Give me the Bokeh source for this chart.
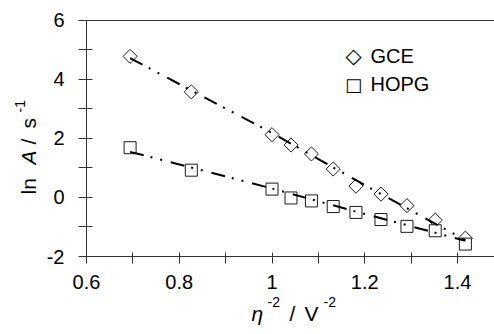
import numpy as np
from bokeh.plotting import figure
from bokeh.models import Range1d, FixedTicker, Label, LinearAxis
from bokeh.embed import file_html
from bokeh.resources import INLINE

# ---- data ----
eta_inv2 = [0.694, 0.826, 1.000, 1.041, 1.085, 1.132, 1.181, 1.235, 1.291, 1.352, 1.417]
gce_lnA = [4.77, 3.57, 2.12, 1.77, 1.47, 0.96, 0.38, 0.11, -0.28, -0.77, -1.38]
hopg_lnA = [1.68, 0.92, 0.28, -0.02, -0.12, -0.31, -0.51, -0.75, -0.98, -1.13, -1.58]

gce_fit_x = [0.694, 1.000, 1.181, 1.417]
gce_fit_y = [4.71, 2.18, 0.58, -1.45]
hopg_fit_x = [0.694, 0.826, 1.000, 1.181, 1.417]
hopg_fit_y = [1.54, 1.01, 0.30, -0.48, -1.47]

series_names = ["GCE", "HOPG"]
series_symbols = ["◇", "□"]

x_ticks = [0.6, 0.8, 1.0, 1.2, 1.4]
x_tick_labels = ["0.6", "0.8", "1", "1.2", "1.4"]
x_minor_ticks = [0.7, 0.9, 1.1, 1.3]
y_ticks = [-2, 0, 2, 4, 6]
y_tick_labels = ["-2", "0", "2", "4", "6"]
y_minor_ticks = [-1, 1, 3, 5]

# ---- layout (pixels) ----
W, H = 494, 334
X0_PX, X1_PX = 86, 457        # pixel columns of x = 0.6 and x = 1.4
Y0_PX, Y1_PX = 256, 19.5      # pixel rows of y = -2 and y = 6
XMIN, XMAX, YMIN, YMAX = 0.6, 1.4, -2, 6
xpp = (XMAX - XMIN) / (X1_PX - X0_PX)
ypp = (YMAX - YMIN) / (Y0_PX - Y1_PX)
x_range = Range1d(XMIN - X0_PX * xpp, XMIN + (W - X0_PX) * xpp)
y_range = Range1d(YMIN - (H - Y0_PX) * ypp, YMAX + Y1_PX * ypp)
x_end = x_range.end

FONT = "Liberation Sans"
AX = "#333333"

p = figure(width=W, height=H, x_range=x_range, y_range=y_range, title=None,
           output_backend="svg", toolbar_location=None, x_axis_location=None,
           y_axis_location=None, min_border=0)
p.grid.visible = False
p.outline_line_color = None
p.background_fill_color = "white"
p.border_fill_color = "white"

xa = LinearAxis(fixed_location=YMIN, bounds=(XMIN, x_end),
                ticker=FixedTicker(ticks=x_ticks, minor_ticks=x_minor_ticks))
xa.major_label_overrides = dict(zip(x_ticks, x_tick_labels))
xa.major_tick_in = 4
xa.major_tick_out = 7
xa.minor_tick_in = 4
xa.minor_tick_out = 7
xa.major_label_standoff = 11

ya = LinearAxis(fixed_location=XMIN, bounds=(YMIN, YMAX),
                ticker=FixedTicker(ticks=y_ticks, minor_ticks=y_minor_ticks))
ya.major_label_overrides = dict(zip(y_ticks, y_tick_labels))
ya.major_tick_in = 6
ya.major_tick_out = 8
ya.minor_tick_in = 6
ya.minor_tick_out = 8
ya.major_label_standoff = 14

# top frame line
ta = LinearAxis(fixed_location=YMAX, bounds=(XMIN, x_end), ticker=FixedTicker(ticks=[]),
                major_label_text_font_size="0px", major_tick_line_color=None,
                minor_tick_line_color=None)

for ax in (xa, ya, ta):
    ax.axis_line_color = AX
    ax.axis_line_width = 1
for ax in (xa, ya):
    ax.major_tick_line_color = AX
    ax.minor_tick_line_color = AX
    ax.major_label_text_font = FONT
    ax.major_label_text_font_size = "20px"
    ax.major_label_text_color = "black"

p.add_layout(xa, "below")
p.add_layout(ya, "left")
p.add_layout(ta, "above")

r_g = p.scatter(eta_inv2, gce_lnA, marker="square", angle=np.pi / 4, size=10,
                fill_color="white", line_color="#1a1a1a", line_width=1)
r_h = p.scatter(eta_inv2, hopg_lnA, marker="square", size=12,
                fill_color="white", line_color="#1a1a1a", line_width=1)

dash = "14 7 2 8 2 9"
p.line(gce_fit_x, gce_fit_y, line_color="black", line_width=2, line_dash=dash)
p.line(hopg_fit_x, hopg_fit_y, line_color="black", line_width=2, line_dash=dash)


def lab(cx, cy, text, size="21px", style="normal", angle=0.0, font=FONT, align="left"):
    # cx, cy: canvas pixels from the top-left corner (cy = vertical middle of the text)
    p.add_layout(Label(x=cx, y=H - cy, x_units="screen", y_units="screen", text=text,
                       text_font=font, text_font_size=size, text_font_style=style,
                       text_align=align, text_baseline="middle", angle=angle,
                       text_color="black"))


# legend (text symbols as in the reference)
symbol_sizes = ["21px", "18px"]
for i, (sym, name) in enumerate(zip(series_symbols, series_names)):
    cy = 55 + 28.5 * i
    lab(353, cy, sym, size=symbol_sizes[i], font="DejaVu Sans", align="center")
    lab(370, cy, name, size="20px")

# x-axis title: eta^-2 / V^-2
lab(251, 313, "η", style="italic")
lab(267, 301, "-2", size="14px")
lab(289, 313, "/")
lab(304, 313, "V")
lab(323, 301, "-2", size="14px")

# y-axis title: ln A / s^-1
r90 = np.pi / 2
lab(28, 194, "ln", angle=r90)
lab(28, 164, "A", style="italic", angle=r90)
lab(28, 144, "/", angle=r90)
lab(28, 128, "s", angle=r90)
lab(19, 112, "-1", size="14px", angle=r90)

open("out.html", "w").write(file_html(p, INLINE))
